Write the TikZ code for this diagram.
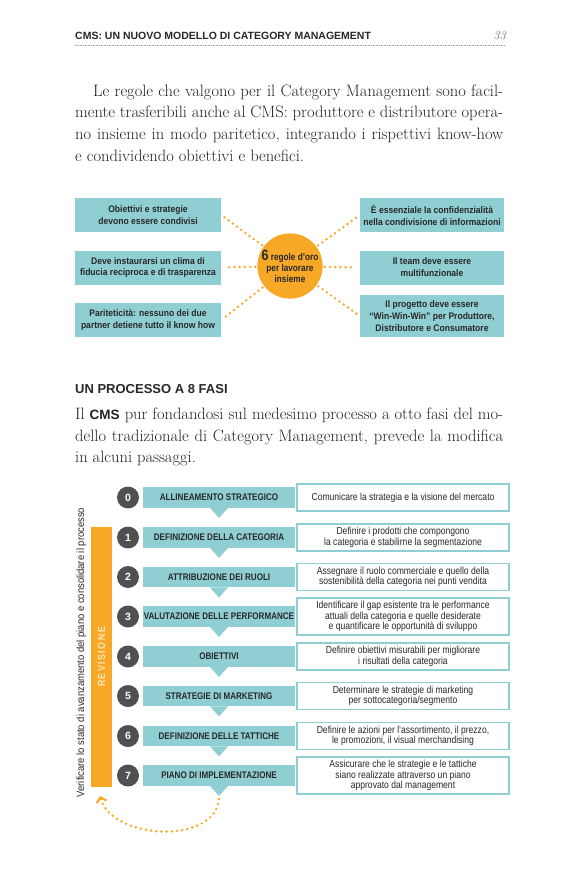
\documentclass[tikz,border=0pt]{standalone}
\usepackage{fontspec}
\usetikzlibrary{arrows.meta}
\newfontfamily\hsans{Liberation Sans}
\newfontfamily\cond[FakeStretch=0.84]{Liberation Sans}
\newfontfamily\condw[FakeStretch=0.9]{Liberation Sans}
\definecolor{cmsteal}{RGB}{143,207,212}
\definecolor{cmsorange}{RGB}{247,168,38}
\definecolor{cmsgray}{RGB}{80,80,80}
\definecolor{cmstext}{RGB}{40,40,40}
\definecolor{cmsbody}{RGB}{35,35,35}
\definecolor{cmscream}{RGB}{254,232,186}
\newcommand\cmsrow[4]{%
  \node[numcirc] (n#1) at (128,#2) {#1};
  \node[stepbar] (s#1) at (219,#2) {#3};
  \fill[cmsteal] ([xshift=-9pt]s#1.south) -- ([xshift=9pt]s#1.south) -- ([yshift=-10pt]s#1.south) -- cycle;
  \node[descbox] (d#1) at (403,#2) {#4};
}
\begin{document}
\begin{tikzpicture}[x=1pt,y=-1pt,
  para/.style={inner sep=0pt, anchor=base west, text=cmsbody, font=\fontsize{16.5}{19}\selectfont},
  rulebox/.style={fill=cmsteal, inner sep=0pt, align=center, text=cmstext, minimum width=146pt, minimum height=34pt, font=\condw\bfseries\fontsize{9.5}{11.8}\selectfont},
  goldcirc/.style={circle, fill=cmsorange, minimum size=65pt, inner sep=0pt, align=center, text=cmstext, font=\cond\bfseries\fontsize{9.8}{11}\selectfont},
  dotline/.style={cmsorange, line width=2.7pt, line cap=round, dash pattern=on 0pt off 5.2pt},
  numcirc/.style={circle, fill=cmsgray, minimum size=22pt, inner sep=0pt, text=white, font=\hsans\bfseries\fontsize{10.5}{10.5}\selectfont},
  stepbar/.style={fill=cmsteal, minimum width=152pt, minimum height=20.5pt, inner sep=0pt, text=cmstext, font=\cond\bfseries\fontsize{9.6}{10}\selectfont},
  descbox/.style={draw=cmsteal, line width=1.3pt, fill=white, minimum width=212pt, minimum height=27pt, inner xsep=2pt, inner ysep=3pt, align=center, text=cmstext, font=\cond\fontsize{10.2}{10.7}\selectfont}
]
\useasboundingbox[fill=white] (0,0) rectangle (580,885);

% header
\node[anchor=base west, inner sep=0pt, text=cmstext, font=\hsans\bfseries\fontsize{10.5}{10.5}\selectfont] (hdr) at (75,39.5) {CMS: UN NUOVO MODELLO DI CATEGORY MANAGEMENT};
\node[anchor=base east, inner sep=0pt, text=gray!80!black, font=\itshape\fontsize{12.5}{12.5}\selectfont] (pg) at (506,39.5) {33};
\coordinate (hl) at (75,45);
\coordinate (hr) at (505,45);
\draw[gray!70, line width=0.6pt, dash pattern=on 0.8pt off 0.8pt] (hl) -- (hr);

% paragraph 1
\node[para] (p1a) at (93,96.5) {\makebox[410pt][s]{Le regole che valgono per il Category Management sono facil-}};
\node[para] (p1b) at (75,118) {\makebox[428pt][s]{mente trasferibili anche al CMS: produttore e distributore opera-}};
\node[para] (p1c) at (75,140) {\makebox[428pt][s]{no insieme in modo paritetico, integrando i rispettivi know-how}};
\node[para] (p1d) at (75,161.5) {e condividendo obiettivi e benefici.};

% rules diagram
\node[goldcirc] (c) at (290,266) {{\fontsize{15}{15}\selectfont 6} regole d’oro\\per lavorare\\insieme};
\node[rulebox] (l1) at (148,215) {Obiettivi e strategie\\devono essere condivisi};
\node[rulebox] (l2) at (148,267.5) {Deve instaurarsi un clima di\\fiducia reciproca e di trasparenza};
\node[rulebox] (l3) at (148,320) {Pariteticità: nessuno dei due\\partner detiene tutto il know how};
\node[rulebox, minimum width=144pt] (r1) at (432,215) {È essenziale la confidenzialità\\nella condivisione di informazioni};
\node[rulebox, minimum width=144pt] (r2) at (432,267.5) {Il team deve essere\\multifunzionale};
\node[rulebox, minimum width=144pt, minimum height=42pt] (r3) at (432,316) {Il progetto deve essere\\“Win-Win-Win” per Produttore,\\Distributore e Consumatore};
\foreach \b in {l1,l2,l3} \draw[dotline, shorten >=4pt, shorten <=2pt] (c) -- (\b.east);
\foreach \b in {r1,r2,r3} \draw[dotline, shorten >=4pt, shorten <=2pt] (c) -- (\b.west);

% heading and paragraph 2
\node[anchor=base west, inner sep=0pt, text=cmstext, font=\hsans\bfseries\fontsize{13}{13}\selectfont] (h2) at (75,393.3) {UN PROCESSO A 8 FASI};
\node[para] (p2a) at (75,419.3) {\makebox[428pt][s]{Il {\hsans\bfseries\fontsize{13.5}{15}\selectfont CMS} pur fondandosi sul medesimo processo a otto fasi del mo-}};
\node[para] (p2b) at (75,441) {\makebox[428pt][s]{dello tradizionale di Category Management, prevede la modifica}};
\node[para] (p2c) at (75,462.5) {in alcuni passaggi.};

% process
\node[fill=cmsorange, minimum width=21pt, minimum height=260pt, inner sep=0pt] (rev) at (101.5,657) {};
\node[rotate=90, inner sep=0pt, text=cmscream, font=\cond\bfseries\fontsize{10.5}{10.5}\selectfont\addfontfeature{LetterSpace=14}] (revt) at (rev.center) {REVISIONE};
\node[rotate=90, inner sep=0pt, text=cmstext, font=\condw\fontsize{10.5}{10.5}\selectfont] (vt) at (81.5,652.5) {Verificare lo stato di avanzamento del piano e consolidare il processo};

\cmsrow{0}{497.5}{ALLINEAMENTO STRATEGICO}{Comunicare la strategia e la visione del mercato}
\cmsrow{1}{537.5}{DEFINIZIONE DELLA CATEGORIA}{Definire i prodotti che compongono\\la categoria e stabilirne la segmentazione}
\cmsrow{2}{577}{ATTRIBUZIONE DEI RUOLI}{Assegnare il ruolo commerciale e quello della\\sostenibilità della categoria nei punti vendita}
\cmsrow{3}{616.5}{VALUTAZIONE DELLE PERFORMANCE}{Identificare il gap esistente tra le performance\\attuali della categoria e quelle desiderate\\e quantificare le opportunità di sviluppo}
\cmsrow{4}{656.5}{OBIETTIVI}{Definire obiettivi misurabili per migliorare\\i risultati della categoria}
\cmsrow{5}{696}{STRATEGIE DI MARKETING}{Determinare le strategie di marketing\\per sottocategoria/segmento}
\cmsrow{6}{736}{DEFINIZIONE DELLE TATTICHE}{Definire le azioni per l’assortimento, il prezzo,\\le promozioni, il visual merchandising}
\cmsrow{7}{775.5}{PIANO DI IMPLEMENTAZIONE}{Assicurare che le strategie e le tattiche\\siano realizzate attraverso un piano\\approvato dal management}

\coordinate (aend) at (100,796);
\draw[dotline, -{Straight Barb[length=4.5pt,width=10pt,line width=2.2pt]}] ([yshift=-13pt]s7.south) .. controls +(-4,46) and +(12,44) .. (aend);
\end{tikzpicture}
\end{document}
